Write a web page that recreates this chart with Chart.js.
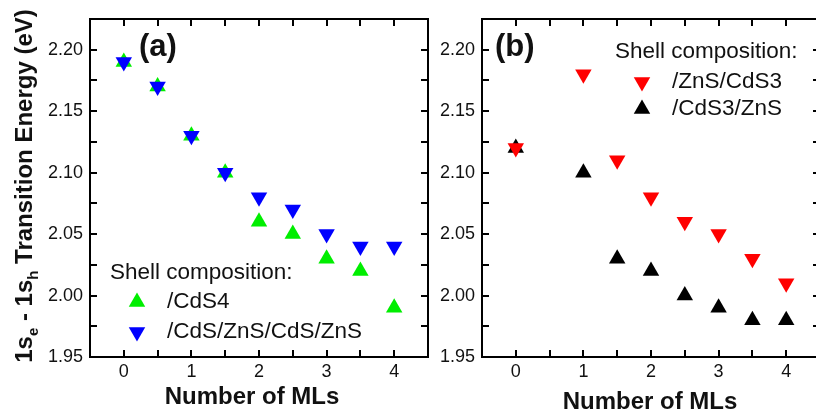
<!DOCTYPE html>
<html>
<head>
<meta charset="utf-8">
<script src="https://cdn.jsdelivr.net/npm/chart.js@4.4.1/dist/chart.umd.min.js"></script>
<style>
html, body { margin: 0; padding: 0; background: #fff; overflow: hidden; }
#wrap { position: relative; width: 816px; height: 414px; overflow: hidden; }
#panelA { position: absolute; left: 0; top: 0; width: 440px; height: 414px; }
#panelB { position: absolute; left: 440px; top: 0; width: 390px; height: 414px; }
</style>
</head>
<body>
<div id="wrap">
  <canvas id="panelA" width="440" height="414"></canvas>
  <canvas id="panelB" width="390" height="414"></canvas>
</div>
<script>
// Panel (a) data
const mlsA = [0, 0.5, 1, 1.5, 2, 2.5, 3, 3.5, 4];
const cds4 = [2.19, 2.17, 2.13, 2.10, 2.06, 2.05, 2.03, 2.02, 1.99];
const cdsZnsCdsZns = [2.19, 2.17, 2.13, 2.10, 2.08, 2.07, 2.05, 2.04, 2.04];

// Panel (b) data
const mlsB = [0, 1, 1.5, 2, 2.5, 3, 3.5, 4];
const znsCds3 = [2.12, 2.18, 2.11, 2.08, 2.06, 2.05, 2.03, 2.01];
const cds3Zns = [2.12, 2.10, 2.03, 2.02, 2.00, 1.99, 1.98, 1.98];

// Axis ticks
const xTickLabels = [0, 1, 2, 3, 4];
const yTickLabels = [1.95, 2.00, 2.05, 2.10, 2.15, 2.20];
const xTickMarks = [0, 0.5, 1, 1.5, 2, 2.5, 3, 3.5, 4];
const yTickMarks = [1.975, 2.0, 2.025, 2.05, 2.075, 2.1, 2.125, 2.15, 2.175, 2.2];

const FONT = '"Liberation Sans", Arial, Helvetica, sans-serif';
const INK = '#111';

function toXY(xs, ys) {
    return xs.map((x, i) => ({ x: x, y: ys[i] }));
}

function triangle(ctx, x, y, r, rotation, color) {
    let rad = rotation * Math.PI / 180;
    ctx.beginPath();
    for (let k = 0; k < 3; k++) {
        const px = x + Math.sin(rad) * r;
        const py = y - Math.cos(rad) * r;
        if (k === 0) ctx.moveTo(px, py); else ctx.lineTo(px, py);
        rad += 2 * Math.PI / 3;
    }
    ctx.closePath();
    ctx.fillStyle = color;
    ctx.fill();
}

function drawYTitle(ctx, cx, cy) {
    const parts = [['1s', false], ['e', true], [' - 1s', false], ['h', true], [' Transition Energy (eV)', false]];
    const big = 'bold 24px ' + FONT;
    const small = 'bold 15px ' + FONT;
    let total = 0;
    parts.forEach(p => { ctx.font = p[1] ? small : big; total += ctx.measureText(p[0]).width; });
    ctx.save();
    ctx.translate(cx, cy);
    ctx.rotate(-Math.PI / 2);
    ctx.textAlign = 'left';
    ctx.textBaseline = 'alphabetic';
    ctx.fillStyle = INK;
    let x = -total / 2;
    parts.forEach(p => {
        ctx.font = p[1] ? small : big;
        ctx.fillText(p[0], x, p[1] ? 6 : 0);
        x += ctx.measureText(p[0]).width;
    });
    ctx.restore();
}

// Frame with inward ticks on all four sides
const framePlugin = {
    id: 'frame',
    beforeDatasetsDraw(chart) {
        const { ctx, chartArea: a, scales } = chart;
        const len = 7;
        ctx.save();
        ctx.strokeStyle = '#000';
        ctx.lineWidth = 2;
        ctx.beginPath();
        xTickMarks.forEach(v => {
            const px = Math.round(scales.x.getPixelForValue(v));
            ctx.moveTo(px, a.bottom); ctx.lineTo(px, a.bottom - len);
            ctx.moveTo(px, a.top); ctx.lineTo(px, a.top + len);
        });
        yTickMarks.forEach(v => {
            const py = Math.round(scales.y.getPixelForValue(v));
            ctx.moveTo(a.left, py); ctx.lineTo(a.left + len, py);
            ctx.moveTo(a.right, py); ctx.lineTo(a.right - len, py);
        });
        ctx.stroke();
        ctx.strokeRect(a.left, a.top, a.right - a.left, a.bottom - a.top);
        ctx.restore();
    },
    afterDraw(chart, args, opts) {
        const { ctx, chartArea: a } = chart;
        ctx.save();
        ctx.fillStyle = INK;
        // panel label
        ctx.font = 'bold 31px ' + FONT;
        ctx.textAlign = 'left';
        ctx.textBaseline = 'middle';
        ctx.fillText(opts.panel, opts.panelX, opts.panelY);
        // x title
        ctx.font = 'bold 24px ' + FONT;
        ctx.textAlign = 'center';
        ctx.fillText('Number of MLs', (a.left + a.right) / 2 - opts.xTitleShift, opts.xTitleY);
        // legend
        const lg = opts.legend;
        ctx.font = '22.5px ' + FONT;
        ctx.textAlign = 'left';
        ctx.fillText('Shell composition:', lg.titleX, lg.titleY);
        lg.order.forEach((di, row) => {
            const ds = chart.data.datasets[di];
            const y = lg.rowY[row];
            triangle(ctx, lg.markerX, y, ds.pointRadius, ds.pointRotation, ds.backgroundColor);
            ctx.fillStyle = INK;
            ctx.fillText(ds.label, lg.textX, y);
        });
        if (opts.yTitle) drawYTitle(ctx, 32, 186);
        ctx.restore();
    }
};

function makeScales(yWidth) {
    return {
        x: {
            type: 'linear', min: -0.5, max: 4.5,
            afterBuildTicks: s => { s.ticks = xTickLabels.map(v => ({ value: v })); },
            afterFit: s => { s.height = 57; },
            grid: { display: false, drawTicks: false },
            border: { display: false },
            ticks: { font: { family: FONT, size: 18 }, color: INK, padding: 4, maxRotation: 0, autoSkip: false, callback: v => String(v) }
        },
        y: {
            type: 'linear', min: 1.95, max: 2.225,
            afterBuildTicks: s => { s.ticks = yTickLabels.map(v => ({ value: v })); },
            afterFit: s => { s.width = yWidth; },
            grid: { display: false, drawTicks: false },
            border: { display: false },
            ticks: { font: { family: FONT, size: 18 }, color: INK, padding: 7, autoSkip: false, callback: v => v.toFixed(2) }
        }
    };
}

function series(label, xs, ys, color, rotation) {
    return {
        label: label,
        data: toXY(xs, ys),
        backgroundColor: color,
        borderColor: color,
        borderWidth: 0,
        pointStyle: 'triangle',
        pointRadius: 9.5,
        pointRotation: rotation,
        showLine: false
    };
}

// Panel (a) - first dataset is drawn on top
new Chart(document.getElementById('panelA'), {
    type: 'scatter',
    data: {
        datasets: [
            series('/CdS/ZnS/CdS/ZnS', mlsA, cdsZnsCdsZns, '#0000ff', 180),
            series('/CdS4', mlsA, cds4, '#00ee00', 0)
        ]
    },
    options: {
        responsive: false,
        animation: false,
        events: [],
        layout: { padding: { top: 19, right: 12, left: 0, bottom: 0 } },
        scales: makeScales(90),
        plugins: {
            legend: { display: false },
            tooltip: { enabled: false },
            frame: {
                panel: '(a)', panelX: 139, panelY: 47,
                xTitleY: 397, xTitleShift: 7, yTitle: true,
                legend: { titleX: 110, titleY: 273, markerX: 137, textX: 167, rowY: [302, 332], order: [1, 0] }
            }
        }
    },
    plugins: [framePlugin]
});

// Panel (b)
new Chart(document.getElementById('panelB'), {
    type: 'scatter',
    data: {
        datasets: [
            series('/ZnS/CdS3', mlsB, znsCds3, '#ff0000', 180),
            series('/CdS3/ZnS', mlsB, cds3Zns, '#000000', 0)
        ]
    },
    options: {
        responsive: false,
        animation: false,
        events: [],
        layout: { padding: { top: 19, right: 10, left: 0, bottom: 0 } },
        scales: makeScales(42),
        plugins: {
            legend: { display: false },
            tooltip: { enabled: false },
            frame: {
                panel: '(b)', panelX: 55, panelY: 47,
                xTitleY: 402, xTitleShift: 1, yTitle: false,
                legend: { titleX: 175, titleY: 52, markerX: 202, textX: 232, rowY: [82, 109], order: [0, 1] }
            }
        }
    },
    plugins: [framePlugin]
});
</script>
</body>
</html>
